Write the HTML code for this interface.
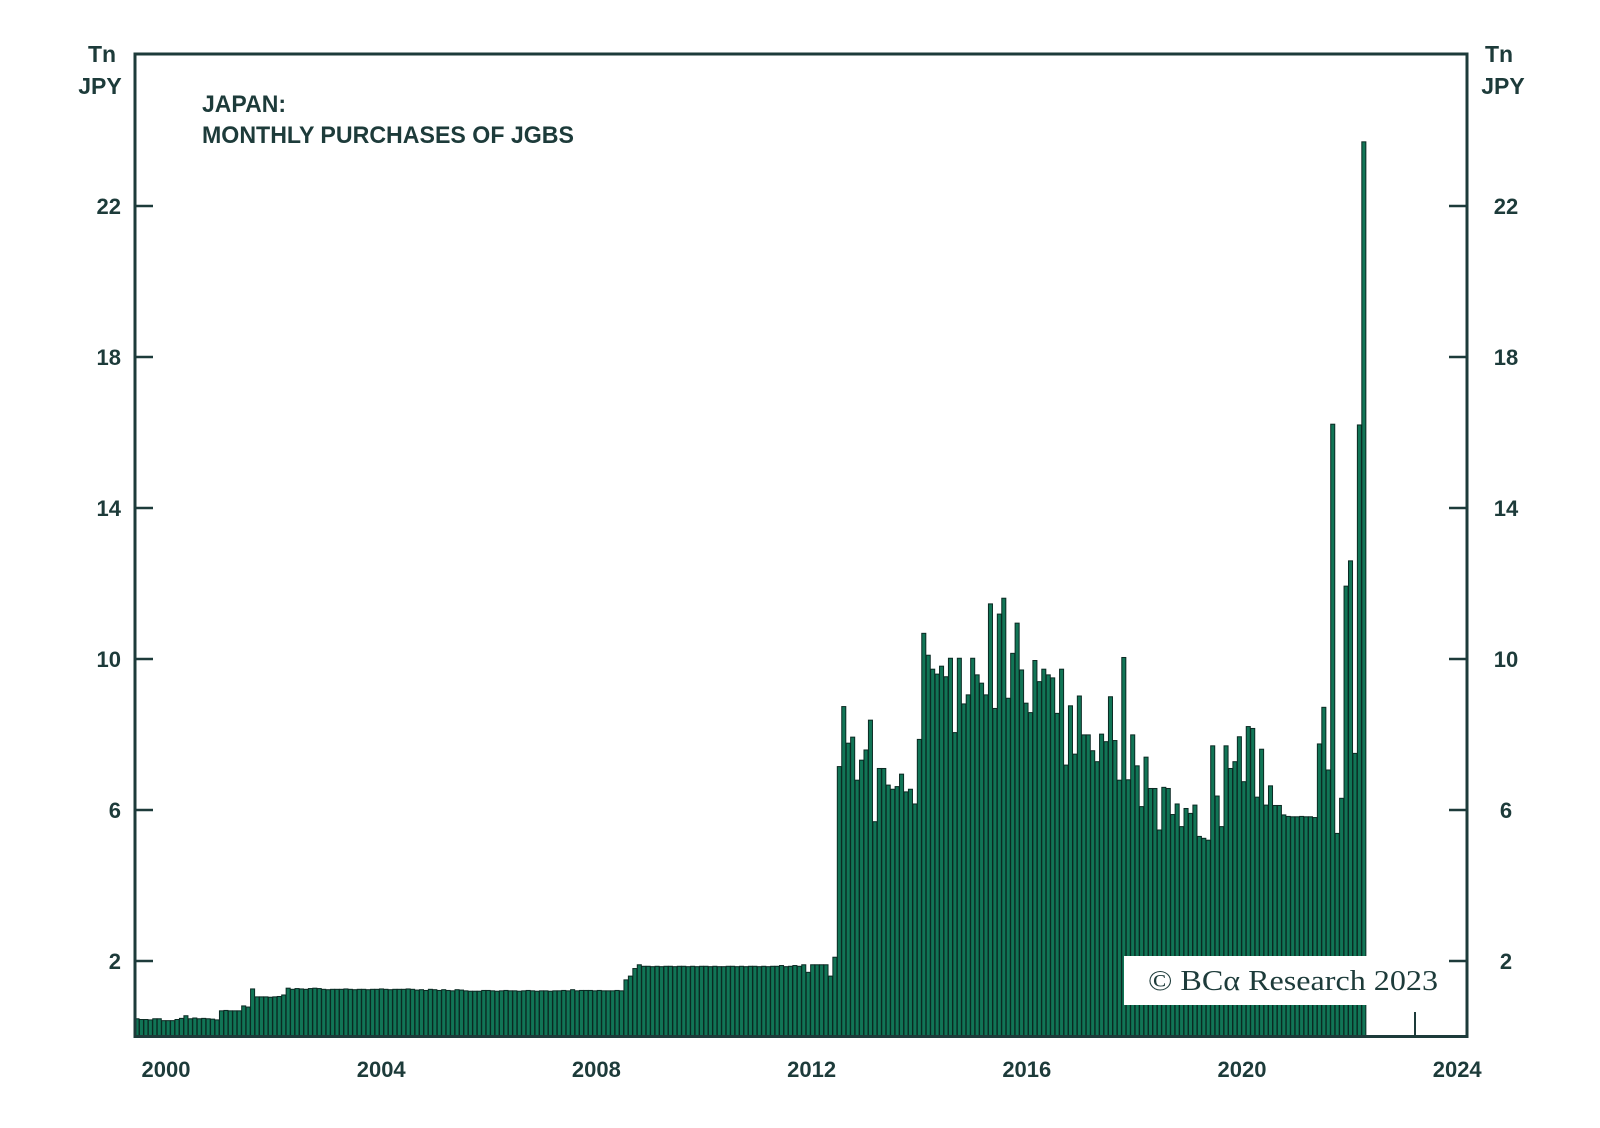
<!DOCTYPE html>
<html><head><meta charset="utf-8">
<style>
html,body{margin:0;padding:0;background:#fff;}
svg{display:block;}
text{font-family:"Liberation Sans",sans-serif;fill:#1d3b3a;}
</style></head>
<body>
<svg id="chart" width="1600" height="1128" viewBox="0 0 1600 1128" xmlns="http://www.w3.org/2000/svg">
<rect x="0" y="0" width="1600" height="1128" fill="#fff"/>
<g id="bars"></g>
<g id="axes"></g>
<text x="202" y="112" font-size="24" font-weight="bold" textLength="84" lengthAdjust="spacingAndGlyphs">JAPAN:</text>
<text x="202" y="143" font-size="24" font-weight="bold" textLength="372" lengthAdjust="spacingAndGlyphs">MONTHLY PURCHASES OF JGBS</text>
<text x="102" y="62" font-size="23" font-weight="bold" text-anchor="middle">Tn</text>
<text x="100" y="94" font-size="23" font-weight="bold" text-anchor="middle">JPY</text>
<text x="1499" y="62" font-size="23" font-weight="bold" text-anchor="middle">Tn</text>
<text x="1503" y="94" font-size="23" font-weight="bold" text-anchor="middle">JPY</text>
<rect x="1124" y="956" width="325" height="49" fill="#fff"/>
<text x="1148" y="990" font-size="28" textLength="290" lengthAdjust="spacingAndGlyphs" style="font-family:'Liberation Serif',serif">© BCα Research 2023</text>
</svg>
<script>
const yTicks = [2, 6, 10, 14, 18, 22];
const xTickYears = [2000, 2004, 2008, 2012, 2016, 2020, 2024];
const startYear = 1999.42;
const monthlyValues = [
0.47,0.45,0.45,0.44,0.47,0.47,0.42,0.42,0.42,0.45,0.48,0.55,0.47,0.49,0.47,0.48,0.47,0.46,0.44,
0.68,0.69,0.68,0.68,0.68,
0.81,0.78,
1.26,
1.05,1.05,1.05,1.04,1.05,1.06,1.1,
1.28,1.25,1.27,1.26,1.25,1.27,1.28,1.27,1.25,1.24,1.25,1.25,1.25,1.26,1.25,1.24,1.25,1.25,1.24,1.25,1.25,1.26,1.25,1.24,1.25,1.25,1.25,1.26,1.25,1.23,1.24,1.22,1.25,1.24,1.22,1.24,1.22,1.21,1.24,1.23,1.21,1.2,
1.2,1.2,1.22,1.22,1.21,1.2,1.21,1.22,1.21,1.21,1.2,1.21,1.22,1.21,1.2,1.21,1.21,1.2,1.21,1.21,1.22,1.21,1.24,1.21,1.22,1.22,1.22,1.21,1.22,1.21,1.21,1.21,1.22,1.21,
1.5,1.6,1.8,1.9,
1.86,1.86,1.85,1.86,1.85,1.86,1.86,1.85,1.86,1.86,1.85,1.86,1.85,1.86,1.86,1.85,1.86,1.85,1.85,1.86,1.86,1.85,1.86,1.85,1.86,1.86,1.85,1.86,1.85,1.86,1.86,1.88,1.85,1.86,1.88,1.86,1.9,1.7,1.9,1.9,1.9,1.9,1.6,2.1,
7.15,8.74,7.77,7.93,6.79,7.32,7.59,8.38,5.69,7.1,7.1,6.66,6.55,6.62,6.95,6.48,6.55,6.16,7.87,10.68,
10.1,9.73,9.6,9.81,9.53,10.02,8.05,10.02,8.81,9.05,10.02,9.58,9.36,9.05,11.46,8.69,11.19,11.61,8.96,10.15,
10.95,9.71,8.83,8.58,9.96,9.4,9.73,9.58,9.5,8.56,9.73,7.19,8.76,7.48,9.02,7.99,7.99,7.57,7.28,
8.01,7.81,9.0,7.84,6.79,10.04,6.8,7.99,7.17,6.09,7.4,6.57,6.57,5.47,6.6,6.57,5.88,6.16,5.56,6.04,5.91,6.13,
5.3,5.25,5.2,
7.7,6.37,5.56,7.7,7.1,7.28,7.94,6.75,8.21,8.16,6.34,7.61,6.13,6.64,6.12,6.12,5.87,5.83,
5.82,5.82,5.83,5.82,5.82,5.8,
7.75,8.72,7.06,16.22,5.38,6.31,11.93,12.6,7.5,16.2,23.7
];

const NS = 'http://www.w3.org/2000/svg';
const plotL = 135, plotR = 1467, plotT = 54, plotB = 1036.5;
function xScale(t){ return 166 + (t - 2000) * 53.8; }
function barX(t){ return 135 + (t - startYear) * 53.34; }
function yScale(v){ return plotB - v * 37.75; }
const barW = 53.34 / 12;

const barsG = document.getElementById('bars');
monthlyValues.forEach(function(v, i){
  const r = document.createElementNS(NS, 'rect');
  const x = barX(startYear + i / 12);
  r.setAttribute('x', x.toFixed(2));
  r.setAttribute('y', yScale(v).toFixed(2));
  r.setAttribute('width', (barW - 0.4).toFixed(2));
  r.setAttribute('height', (plotB - yScale(v)).toFixed(2));
  r.setAttribute('fill', '#117556');
  r.setAttribute('stroke', '#0b2a23');
  r.setAttribute('stroke-width', '1');
  
  
  barsG.appendChild(r);
});

const axesG = document.getElementById('axes');
function mk(tag, attrs){
  const e = document.createElementNS(NS, tag);
  for (const k in attrs) e.setAttribute(k, attrs[k]);
  return e;
}
const frame = mk('rect', {x: plotL, y: plotT, width: plotR - plotL, height: plotB - plotT, fill: 'none', stroke: '#1d3b3a', 'stroke-width': 3});


axesG.appendChild(frame);

yTicks.forEach(function(v){
  const y = yScale(v);
  const tl = mk('line', {x1: plotL, x2: plotL + 18, y1: y, y2: y, stroke: '#1d3b3a', 'stroke-width': 2.5});
  
  
  axesG.appendChild(tl);
  const tr = mk('line', {x1: plotR - 18, x2: plotR, y1: y, y2: y, stroke: '#1d3b3a', 'stroke-width': 2.5});
  
  
  axesG.appendChild(tr);
  const lt = mk('text', {x: 121, y: y + 8, 'font-size': 22, 'font-weight': 'bold', 'text-anchor': 'end'});
  lt.textContent = v;
  
  
  axesG.appendChild(lt);
  const rt = mk('text', {x: 1506, y: y + 8, 'font-size': 22, 'font-weight': 'bold', 'text-anchor': 'middle'});
  rt.textContent = v;
  
  
  axesG.appendChild(rt);
});

xTickYears.forEach(function(yr){
  const t = mk('text', {x: xScale(yr), y: 1077, 'font-size': 22, 'font-weight': 'bold', 'text-anchor': 'middle'});
  t.textContent = yr;
  
  
  axesG.appendChild(t);
});

const mark = mk('line', {x1: 1415, x2: 1415, y1: 1012, y2: plotB, stroke: '#1d3b3a', 'stroke-width': 2});


axesG.appendChild(mark);
</script>
</body></html>
